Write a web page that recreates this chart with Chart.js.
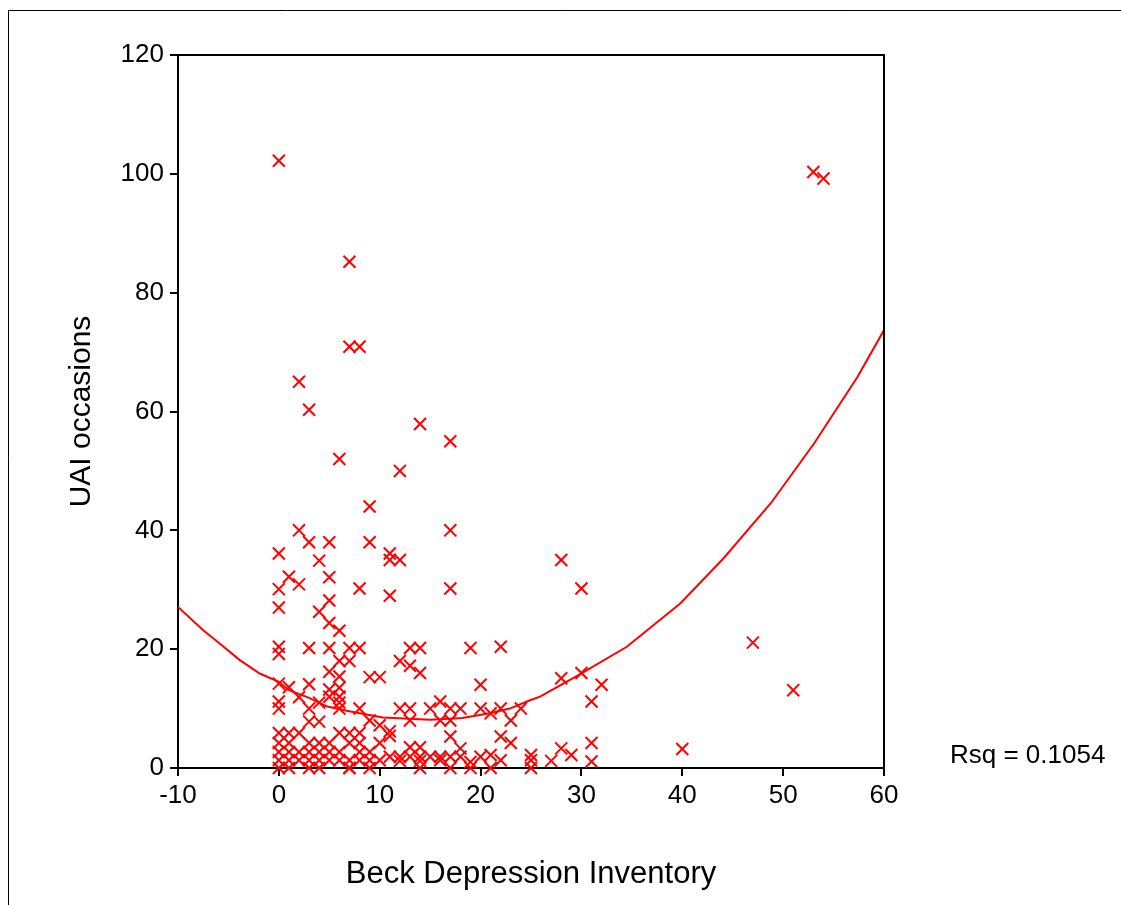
<!DOCTYPE html>
<html lang="en">
<head>
  <meta charset="utf-8">
  <title>UAI occasions vs Beck Depression Inventory</title>
  <script src="https://cdn.jsdelivr.net/npm/chart.js@4.4.1/dist/chart.umd.min.js"></script>
  <style>
    body { margin: 0; background: #fff; }
  </style>
</head>
<body>
  <canvas id="chart" width="1121" height="905"></canvas>
  <script>
    // Beck Depression Inventory score (x) and UAI occasions (y)
    const bdi = [
      0, 7, 7, 8, 2, 3, 14, 17, 6, 12, 9,
      53, 54, 47, 51, 40,
      0, 2, 3, 5, 4, 1, 2, 5, 0, 5, 0, 4, 5, 6, 8, 9,
      11, 11, 12, 17, 17, 11, 28, 30,
      0, 0, 3, 5, 7, 8, 13, 14, 19, 22,
      6, 7, 12, 13, 14, 5, 6, 9, 10,
      0, 1, 3, 20, 28, 30, 32, 31,
      5, 6, 2, 5, 6, 0, 0, 3, 4, 6, 8, 6,
      3, 4, 9, 10, 11, 11, 10,
      12, 13, 15, 16, 17, 18, 20, 21, 22, 24, 13, 16, 17, 23, 17, 22, 23, 18, 13, 14,
      28, 29, 31, 31, 27, 25, 25, 25, 21, 22, 21,
      11, 12, 13, 14, 15, 16, 17, 18, 19, 20, 12, 14, 16, 9, 14, 17, 19, 7,
      0, 0, 0, 0, 0,
      1, 1, 1, 1, 1,
      2, 2, 2,
      3, 3, 3, 3,
      4, 4, 4, 4,
      5, 5, 5,
      6, 6, 6,
      7, 7, 7, 7,
      8, 8, 8, 8,
      9, 9,
      10
    ];
    const uai = [
      102.2, 85.2, 70.9, 70.9, 65, 60.3, 57.9, 55, 52, 50, 44,
      100.3, 99.2, 21.1, 13.1, 3.2,
      36.1, 40, 38, 38, 34.9, 32.2, 30.9, 32.1, 30.1, 28.2, 27, 26.3, 24.4, 23.1, 30.2, 38,
      36.1, 35, 35, 40, 30.2, 29, 35, 30.2,
      20.4, 19.2, 20.2, 20.2, 20.2, 20.2, 20.2, 20.2, 20.2, 20.4,
      18, 18, 18, 17.2, 16, 16.2, 15.4, 15.3, 15.3,
      14.2, 13.6, 14.1, 14, 15.1, 16, 14, 11.2,
      13.2, 13.5, 11.9, 12, 12, 11.2, 10, 10, 11, 11, 10, 10,
      7.8, 7.8, 8, 7.2, 6.2, 5.4, 4.2,
      10, 10, 10, 11.2, 10, 10, 10, 9.2, 10, 10, 8, 8, 8, 8, 5.3, 5.3, 4.2, 3.3, 3.5, 3.5,
      3.3, 2.2, 4.2, 1.1, 1.2, 2.2, 1.3, 0, 2.2, 1.3, 0,
      1.9, 1.9, 1.9, 1.9, 1.9, 1.9, 1.9, 1.9, 1, 1.9, 1.2, 1.2, 1.3, 0, 0, 0, 0, 0,
      0, 1.3, 2.7, 4.2, 5.9,
      0, 1.3, 2.7, 4.2, 5.9,
      1.3, 2.7, 5.9,
      0, 1.3, 2.7, 4.2,
      0, 1.3, 2.7, 4.2,
      1.3, 2.7, 4.2,
      1.3, 2.7, 5.9,
      0, 1.3, 4.2, 5.9,
      1.3, 2.7, 4.2, 5.9,
      1.3, 2.7,
      1.3
    ];

    // fitted curve
    const fitX = [-10, -7.5, -5.9, -3.9, -1.9, 0, 1, 3, 4.7, 7.1, 10.3, 15, 18.2, 20.9, 22.9, 24.9, 25.9, 29.8, 34.5, 39.8, 44.1, 48.8, 53.1, 57.4, 60];
    const fitY = [27.1, 23.2, 21, 18.2, 15.9, 14.5, 13.1, 11.8, 10.4, 9.5, 8.5, 8.1, 8.4, 9.2, 10, 11.4, 12, 15.7, 20.4, 27.7, 35.3, 44.6, 54.7, 65.9, 73.7];

    const xTicks = [-10, 0, 10, 20, 30, 40, 50, 60];
    const yTicks = [0, 20, 40, 60, 80, 100, 120];
    const rsqLabel = 'Rsq = 0.1054';

    const font = 'Arial, "Liberation Sans", sans-serif';

    const frame = {
      id: 'frame',
      beforeDraw(chart) {
        const ctx = chart.ctx;
        ctx.save();
        ctx.strokeStyle = '#000';
        ctx.lineWidth = 1;
        ctx.beginPath();
        ctx.moveTo(8.5, chart.height);
        ctx.lineTo(8.5, 10.5);
        ctx.lineTo(chart.width, 10.5);
        ctx.stroke();
        ctx.restore();
      },
      afterDraw(chart) {
        const {ctx, chartArea: a} = chart;
        ctx.save();
        ctx.strokeStyle = '#000';
        ctx.lineWidth = 2;
        ctx.beginPath();
        ctx.moveTo(a.left, a.top);
        ctx.lineTo(a.right, a.top);
        ctx.lineTo(a.right, a.bottom);
        ctx.stroke();
        ctx.fillStyle = '#000';
        ctx.font = '26px ' + font;
        ctx.textBaseline = 'middle';
        ctx.fillText(rsqLabel, a.right + 66, a.bottom - 12);
        ctx.restore();
      }
    };

    new Chart(document.getElementById('chart'), {
      type: 'scatter',
      data: {
        datasets: [{
          data: bdi.map((x, i) => ({x: x, y: uai[i]})),
          pointStyle: 'crossRot',
          pointRadius: 8.5,
          pointHoverRadius: 8.5,
          borderColor: '#ff0000',
          borderWidth: 2,
          clip: false
        }, {
          type: 'line',
          data: fitX.map((x, i) => ({x: x, y: fitY[i]})),
          borderColor: '#ff0000',
          borderWidth: 2,
          pointRadius: 0,
          tension: 0,
          fill: false
        }]
      },
      options: {
        responsive: false,
        animation: false,
        events: [],
        layout: { padding: { top: 55, right: 237, left: 0, bottom: 0 } },
        plugins: { legend: { display: false }, tooltip: { enabled: false } },
        scales: {
          x: {
            type: 'linear',
            min: -10,
            max: 60,
            afterBuildTicks: (s) => { s.ticks = xTicks.map(v => ({value: v})); },
            afterFit: (s) => { s.height = 137; },
            border: { color: '#000', width: 2 },
            grid: { drawOnChartArea: false, color: '#000', lineWidth: 2, tickLength: 8 },
            ticks: { color: '#000', font: { family: font, size: 26 }, padding: 4, maxRotation: 0 },
            title: {
              display: true,
              text: 'Beck Depression Inventory',
              color: '#000',
              font: { family: font, size: 31 },
              padding: { top: 0, bottom: 12 }
            }
          },
          y: {
            min: 0,
            max: 120,
            afterBuildTicks: (s) => { s.ticks = yTicks.map(v => ({value: v})); },
            afterFit: (s) => { s.width = 178; },
            border: { color: '#000', width: 2 },
            grid: { drawOnChartArea: false, color: '#000', lineWidth: 2, tickLength: 8 },
            ticks: { color: '#000', font: { family: font, size: 26 }, padding: 6 },
            title: {
              display: true,
              text: 'UAI occasions',
              color: '#000',
              font: { family: font, size: 30 },
              padding: { top: 64, bottom: 0 }
            }
          }
        }
      },
      plugins: [frame]
    });
  </script>
</body>
</html>
